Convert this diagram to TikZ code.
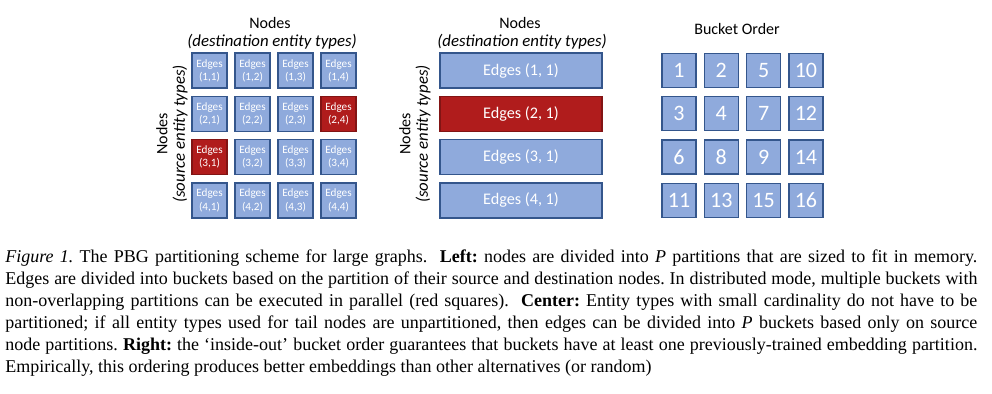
\documentclass[tikz,border=0pt]{standalone}
\usepackage{fontspec}
\setmainfont{Liberation Serif}
\newfontfamily\calibri{Carlito}
\definecolor{boxblue}{RGB}{143,170,220}
\definecolor{boxline}{RGB}{52,86,140}
\definecolor{boxred}{RGB}{176,28,28}
\definecolor{redline}{RGB}{130,20,20}

\begin{document}
\begin{tikzpicture}[x=0.5pt,y=-0.5pt,
  cell/.style={draw=boxline,fill=boxblue,line width=0.7pt,text=white,inner sep=0pt,align=center},
  title/.style={font=\calibri\fontsize{8}{9}\selectfont},
  subtitle/.style={font=\calibri\itshape\fontsize{8.4}{10}\selectfont}]
  \useasboundingbox (0,0) rectangle (992,394);

  % left: all partitioned
  \node[title] (ltop) at (270,23) {Nodes};
  \node[subtitle] (ltopsub) at (272,42) {(destination entity types)};
  \node[title,rotate=90] (lside) at (162,134) {Nodes};
  \node[subtitle,rotate=90] (lsidesub) at (180,134) {(source entity types)};
  \foreach \i in {1,...,4}
    \foreach \j in {1,...,4} {
      \pgfmathtruncatemacro\hot{(\i==2 && \j==4) || (\i==3 && \j==1)}
      \ifnum\hot=1 \def\bx{boxred}\def\bd{redline}\else \def\bx{boxblue}\def\bd{boxline}\fi
      \node[cell,fill=\bx,draw=\bd,minimum size=17.5pt,font=\calibri\fontsize{5.6}{6.6}\selectfont]
        (l\i\j) at ({209.5+43*(\j-1)},{70.5+43.3*(\i-1)}) {Edges\\(\i,\j)};
    }

  % center: destination unpartitioned
  \node[title] (ctop) at (520,23) {Nodes};
  \node[subtitle] (ctopsub) at (522,42) {(destination entity types)};
  \node[title,rotate=90] (cside) at (405,134) {Nodes};
  \node[subtitle,rotate=90] (csidesub) at (423,134) {(source entity types)};
  \foreach \i in {1,...,4} {
    \ifnum\i=2 \def\bx{boxred}\def\bd{redline}\else \def\bx{boxblue}\def\bd{boxline}\fi
    \node[cell,fill=\bx,draw=\bd,minimum width=81pt,minimum height=17.5pt,font=\calibri\fontsize{8.1}{9}\selectfont]
      (c\i) at (521,{70.5+43.3*(\i-1)}) {Edges (\i, 1)};
  }

  % right: bucket order
  \node[title] (rtop) at (737,29) {Bucket Order};
  \foreach \n [count=\k from 0] in {1,2,5,10,3,4,7,12,6,8,9,14,11,13,15,16} {
    \pgfmathtruncatemacro\i{div(\k,4)}
    \pgfmathtruncatemacro\j{mod(\k,4)}
    \node[cell,minimum size=17pt,font=\calibri\fontsize{11}{12}\selectfont]
      (r\n) at ({679+42.3*\j},{70.5+43.3*\i}) {\n};
  }

  \node[anchor=north west,inner sep=0pt,text width=486pt,align=justify,font=\fontsize{9}{11}\selectfont\frenchspacing] (cap) at (5,249)
    {\textit{Figure 1.} The PBG partitioning scheme for large graphs.\ \ \textbf{Left:} nodes are divided into \textit{P} partitions that are sized to fit in memory.\linebreak
    Edges are divided into buckets based on the partition of their source and destination nodes. In distributed mode, multiple buckets with\linebreak
    non-overlapping partitions can be executed in parallel (red squares).\ \ \textbf{Center:} Entity types with small cardinality do not have to be\linebreak
    partitioned; if all entity types used for tail nodes are unpartitioned, then edges can be divided into \textit{P} buckets based only on source\linebreak
    node partitions. \textbf{Right:} the `inside-out' bucket order guarantees that buckets have at least one previously-trained embedding partition.\linebreak
    Empirically, this ordering produces better embeddings than other alternatives (or random)};
\end{tikzpicture}
\end{document}
